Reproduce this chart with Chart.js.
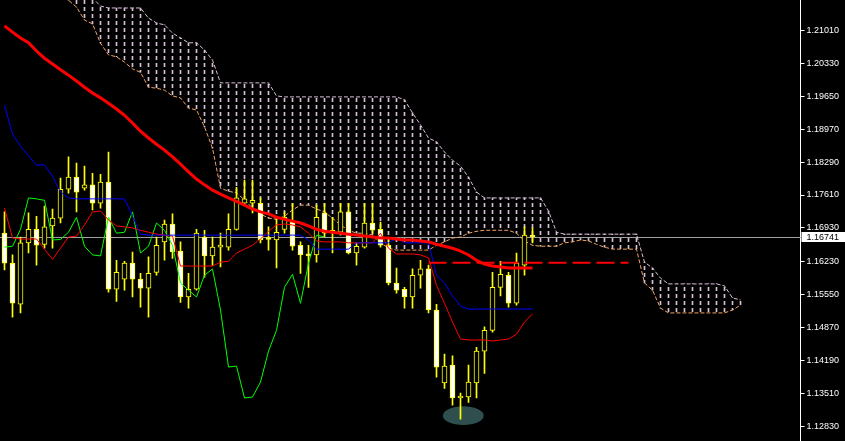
<!DOCTYPE html>
<html>
<head>
<meta charset="utf-8">
<title>EURUSD H4 - Ichimoku</title>
<script src="https://cdn.jsdelivr.net/npm/chart.js@4.4.1/dist/chart.umd.min.js"></script>
<style>
  html, body { margin: 0; padding: 0; background: #000; }
  #chart { display: block; }
</style>
</head>
<body>
<canvas id="chart" width="845" height="441"></canvas>
<script>
// candles, oldest -> newest
const opens = [1.1682,1.1620,1.1535,1.1662,1.1690,1.1659,1.1697,1.1713,1.1773,1.1798,
  1.1775,1.1782,1.1744,1.1788,1.1566,1.1587,1.1620,1.1587,1.1568,1.1601,
  1.1664,1.1701,1.1645,1.1550,1.1566,1.1674,1.1635,1.1653,1.1653,1.1690,
  1.1744,1.1744,1.1744,1.1670,1.1668,1.1690,1.1705,1.1657,1.1637,1.1637,
  1.1724,1.1686,1.1684,1.1726,1.1641,1.1653,1.1703,1.1690,1.1657,1.1579,
  1.1566,1.1550,1.1595,1.1608,1.1523,1.1372,1.1409,1.1341,1.1343,1.1372,
  1.1438,1.1481,1.1570,1.1595,1.1537,1.1616,1.1678];
const highs = [1.1726,1.1637,1.1674,1.1724,1.1717,1.1738,1.1732,1.1796,1.1840,1.1827,
  1.1821,1.1806,1.1804,1.1850,1.1626,1.1624,1.1643,1.1599,1.1633,1.1674,
  1.1709,1.1722,1.1664,1.1599,1.1690,1.1688,1.1674,1.1682,1.1722,1.1777,
  1.1792,1.1792,1.1755,1.1695,1.1715,1.1726,1.1744,1.1664,1.1657,1.1740,
  1.1744,1.1715,1.1744,1.1744,1.1662,1.1744,1.1744,1.1705,1.1668,1.1610,
  1.1570,1.1608,1.1626,1.1616,1.1535,1.1432,1.1428,1.1351,1.1409,1.1446,
  1.1488,1.1601,1.1624,1.1601,1.1641,1.1695,1.1693];
const lows = [1.1606,1.1508,1.1517,1.1641,1.1616,1.1651,1.1651,1.1703,1.1765,1.1726,
  1.1771,1.1730,1.1734,1.1560,1.1541,1.1564,1.1550,1.1529,1.1508,1.1595,
  1.1626,1.1630,1.1539,1.1527,1.1564,1.1591,1.1616,1.1612,1.1647,1.1688,
  1.1740,1.1724,1.1662,1.1647,1.1610,1.1682,1.1647,1.1599,1.1570,1.1622,
  1.1674,1.1641,1.1678,1.1639,1.1616,1.1651,1.1682,1.1653,1.1575,1.1558,
  1.1527,1.1527,1.1568,1.1517,1.1384,1.1361,1.1326,1.1297,1.1332,1.1341,
  1.1392,1.1477,1.1552,1.1529,1.1533,1.1595,1.1662];
const closes = [1.1620,1.1537,1.1662,1.1690,1.1657,1.1695,1.1713,1.1773,1.1798,1.1767,
  1.1782,1.1744,1.1788,1.1566,1.1601,1.1620,1.1587,1.1568,1.1599,1.1657,
  1.1701,1.1643,1.1550,1.1566,1.1682,1.1635,1.1653,1.1655,1.1690,1.1755,
  1.1753,1.1750,1.1668,1.1669,1.1684,1.1715,1.1655,1.1637,1.1635,1.1715,
  1.1682,1.1684,1.1726,1.1641,1.1655,1.1703,1.1688,1.1657,1.1579,1.1564,
  1.1550,1.1595,1.1608,1.1523,1.1405,1.1407,1.1341,1.1343,1.1374,1.1438,
  1.1481,1.1570,1.1597,1.1537,1.1620,1.1678,1.16741];

// moving average (thick red)
const maLine = [1.2111,1.2098,1.2086,1.2076,1.2059,1.2044,1.2032,1.2020,1.2009,1.1997,
  1.1984,1.1972,1.1962,1.1951,1.1939,1.1926,1.1910,1.1893,1.1879,1.1866,
  1.1854,1.1840,1.1825,1.1809,1.1794,1.1782,1.1771,1.1763,1.1755,1.1748,
  1.1740,1.1732,1.1726,1.1722,1.1715,1.1711,1.1707,1.1703,1.1697,1.1690,
  1.1686,1.1684,1.1682,1.1680,1.1678,1.1676,1.1674,1.1672,1.1672,1.1670,
  1.1668,1.1668,1.1666,1.1664,1.1659,1.1655,1.1651,1.1645,1.1637,1.1626,
  1.1618,1.1614,1.1612,1.1610,1.1610,1.1610,1.1610];

// ichimoku lines
const tenkan = [1.1734,1.1672,1.1670,1.1670,1.1670,1.1649,1.1628,1.1651,1.1674,1.1676,
  1.1699,1.1726,1.1728,1.1709,1.1697,1.1695,1.1693,1.1688,1.1684,1.1680,
  1.1678,1.1676,1.1614,1.1614,1.1614,1.1614,1.1614,1.1622,1.1624,1.1641,
  1.1649,1.1657,1.1670,1.1686,1.1699,1.1701,1.1699,1.1695,1.1682,1.1666,
  1.1664,1.1664,1.1664,1.1662,1.1662,1.1662,1.1662,1.1682,1.1651,1.1639,
  1.1639,1.1639,1.1637,1.1631,1.1574,1.1537,1.1498,1.1463,1.1461,1.1461,
  1.1461,1.1459,1.1461,1.1463,1.1473,1.1498,1.1515];
const kijun = [1.1947,1.1887,1.1862,1.1842,1.1823,1.1823,1.1800,1.1767,1.1755,1.1753,
  1.1753,1.1753,1.1753,1.1753,1.1753,1.1753,1.1717,1.1680,1.1678,1.1678,
  1.1678,1.1678,1.1678,1.1678,1.1678,1.1678,1.1678,1.1678,1.1678,1.1678,
  1.1678,1.1678,1.1678,1.1678,1.1678,1.1678,1.1678,1.1678,1.1668,1.1649,
  1.1649,1.1649,1.1649,1.1649,1.1662,1.1662,1.1662,1.1662,1.1662,1.1672,
  1.1662,1.1662,1.1662,1.1662,1.1595,1.1579,1.1552,1.1531,1.1525,1.1525,
  1.1525,1.1525,1.1525,1.1525,1.1525,1.1525,1.1525];
const spanA = [null,null,null,null,null,null,null,1.2181,1.2164,1.2150,
  1.2123,1.2115,1.2075,1.2051,1.2047,1.2036,1.2022,1.2015,1.1984,1.1982,
  1.1978,1.1966,1.1962,1.1941,1.1937,1.1902,1.1858,1.1775,1.1769,1.1765,
  1.1751,1.1734,1.1722,1.1713,1.1711,1.1717,1.1730,1.1740,1.1740,1.1732,
  1.1726,1.1713,1.1699,1.1688,1.1682,1.1682,1.1678,1.1662,1.1651,1.1647,
  1.1647,1.1647,1.1647,1.1647,1.1657,1.1664,1.1672,1.1674,1.1682,1.1686,
  1.1688,1.1688,1.1688,1.1688,1.1682,1.1666,1.1657,1.1655,1.1655,1.1655,
  1.1662,1.1664,1.1668,1.1666,1.1659,1.1653,1.1649,1.1649,1.1649,1.1649,
  1.1579,1.1564,1.1527,1.1517,1.1517,1.1517,1.1517,1.1517,1.1517,1.1517,
  1.1517,1.1523,1.1533];
const spanB = [null,null,null,null,null,null,null,1.2227,1.2216,1.2206,
  1.2189,1.2169,1.2152,1.2148,1.2148,1.2148,1.2148,1.2148,1.2127,1.2117,
  1.2113,1.2096,1.2086,1.2076,1.2076,1.2061,1.2040,1.1993,1.1993,1.1993,
  1.1993,1.1993,1.1993,1.1993,1.1966,1.1964,1.1964,1.1964,1.1964,1.1964,
  1.1964,1.1964,1.1964,1.1964,1.1964,1.1964,1.1964,1.1964,1.1964,1.1964,
  1.1958,1.1931,1.1906,1.1879,1.1871,1.1850,1.1833,1.1821,1.1798,1.1767,
  1.1755,1.1755,1.1755,1.1755,1.1755,1.1755,1.1755,1.1755,1.1728,1.1684,
  1.1680,1.1680,1.1680,1.1680,1.1680,1.1680,1.1680,1.1680,1.1680,1.1680,
  1.1622,1.1610,1.1589,1.1577,1.1577,1.1577,1.1577,1.1577,1.1577,1.1577,
  1.1573,1.1548,1.1544];

// price axis
const priceTicks = [1.12830,1.13510,1.14190,1.14870,1.15550,1.16230,1.16930,
  1.17610,1.18290,1.18970,1.19650,1.20330,1.21010];
const lastPrice = 1.16741;

// red dashed level
const levelPrice = 1.1621;
const levelFrom = 53;
const levelTo = 78;

// shaded blob under the low
const blob = { fromBar: 54.8, toBar: 59.9, top: 1.1324, bottom: 1.1285 };

const totalBars = 100;
const chikouShift = 26;
const yMin = 1.1252;
const yMax = 1.21645;

document.addEventListener("DOMContentLoaded", () => {
  const canvas = document.getElementById('chart');
  const ctx = canvas.getContext('2d');

  const bars = Array.from({ length: totalBars }, (_, i) => i);
  const chikou = bars.map(i => (i + chikouShift < closes.length ? closes[i + chikouShift] : null));
  const level = bars.map(i => (i === levelFrom || i === levelTo ? levelPrice : null));

  // vertical dashed hatch for the cloud
  const tile = document.createElement('canvas');
  tile.width = 1;
  tile.height = 7;
  const tg = tile.getContext('2d');
  tg.fillStyle = '#D8BFD8';
  tg.fillRect(0, 0, 1, 4);
  const hatch = ctx.createPattern(tile, 'repeat');

  const background = {
    id: 'background',
    beforeDraw(chart) {
      const c = chart.ctx;
      c.save();
      c.fillStyle = '#000';
      c.fillRect(0, 0, chart.width, chart.height);
      c.restore();
    }
  };

  const extras = {
    id: 'extras',
    beforeDatasetsDraw(chart) {
      const { ctx: c, chartArea, scales } = chart;
      // bid line
      const y = Math.round(scales.y.getPixelForValue(lastPrice)) + 0.5;
      c.save();
      c.strokeStyle = '#a0a0a0';
      c.lineWidth = 1;
      c.beginPath();
      c.moveTo(0, y);
      c.lineTo(chartArea.right, y);
      c.stroke();
      // blob
      const x1 = scales.x.getPixelForValue(blob.fromBar);
      const x2 = scales.x.getPixelForValue(blob.toBar);
      const y1 = scales.y.getPixelForValue(blob.top);
      const y2 = scales.y.getPixelForValue(blob.bottom);
      c.fillStyle = '#2F4F4F';
      c.beginPath();
      c.ellipse((x1 + x2) / 2, (y1 + y2) / 2, (x2 - x1) / 2, (y2 - y1) / 2, 0, 0, Math.PI * 2);
      c.fill();
      c.restore();
    },
    afterDraw(chart) {
      const { ctx: c, chartArea, scales } = chart;
      const y = Math.round(scales.y.getPixelForValue(lastPrice));
      c.save();
      c.fillStyle = '#fff';
      c.fillRect(chartArea.right + 1, y - 5, chart.width - chartArea.right, 10);
      c.fillStyle = '#000';
      c.font = '9px "Liberation Sans"';
      c.textBaseline = 'middle';
      c.fillText(lastPrice.toFixed(5), chartArea.right + 6, y + 0.5);
      c.restore();
    }
  };

  new Chart(ctx, {
    type: 'bar',
    data: {
      labels: bars,
      datasets: [
        {
          type: 'bar', order: 10, grouped: false,
          data: spanA.map((a, i) => (a === null ? null : [a, spanB[i]])),
          backgroundColor: hatch, borderWidth: 0, barThickness: 1
        },
        {
          type: 'line', order: 9, data: spanA,
          borderColor: '#F4A460', borderWidth: 1, borderDash: [4, 2],
          pointRadius: 0, tension: 0
        },
        {
          type: 'line', order: 9, data: spanB,
          borderColor: '#D8BFD8', borderWidth: 1, borderDash: [4, 2],
          pointRadius: 0, tension: 0
        },
        {
          type: 'bar', order: 8, grouped: false,
          data: lows.map((l, i) => [l, highs[i]]),
          backgroundColor: '#FFFF00', borderWidth: 0, barThickness: 1
        },
        {
          type: 'bar', order: 7, grouped: false,
          data: opens.map((o, i) => [o, closes[i]]),
          backgroundColor: c => (closes[c.dataIndex] < opens[c.dataIndex] ? '#FFFFFF' : '#000000'),
          borderColor: '#FFFF00', borderWidth: 1, borderSkipped: false,
          barThickness: 5, minBarLength: 2
        },
        {
          type: 'line', order: 6, data: chikou,
          borderColor: '#00FF00', borderWidth: 1, pointRadius: 0, tension: 0
        },
        {
          type: 'line', order: 5, data: tenkan,
          borderColor: '#FF0000', borderWidth: 1, pointRadius: 0, tension: 0
        },
        {
          type: 'line', order: 4, data: kijun,
          borderColor: '#0000FF', borderWidth: 1, pointRadius: 0, tension: 0
        },
        {
          type: 'line', order: 3, data: level, spanGaps: true,
          borderColor: '#FF0000', borderWidth: 2, borderDash: [18, 6],
          pointRadius: 0, tension: 0
        },
        {
          type: 'line', order: 2, data: maLine,
          borderColor: '#FF0000', borderWidth: 3, pointRadius: 0, tension: 0
        }
      ]
    },
    options: {
      responsive: false,
      animation: false,
      events: [],
      layout: { padding: { left: 0.5, right: 0, top: 0, bottom: 0 } },
      plugins: {
        legend: { display: false },
        tooltip: { enabled: false }
      },
      scales: {
        x: { type: 'category', offset: true, display: false, grid: { display: false } },
        y: {
          position: 'right',
          min: yMin,
          max: yMax,
          afterBuildTicks: s => { s.ticks = priceTicks.map(v => ({ value: v })); },
          afterFit: s => { s.width = 44.5; s.paddingTop = 0; s.paddingBottom = 0; },
          grid: { drawOnChartArea: false, drawTicks: true, tickLength: 4, tickColor: '#ffffff' },
          border: { display: true, color: '#ffffff', width: 1 },
          ticks: {
            color: '#ffffff',
            padding: 2,
            autoSkip: false,
            font: { family: 'Liberation Sans', size: 9 },
            callback: v => v.toFixed(5)
          }
        }
      }
    },
    plugins: [background, extras]
  });
});
</script>
</body>
</html>
